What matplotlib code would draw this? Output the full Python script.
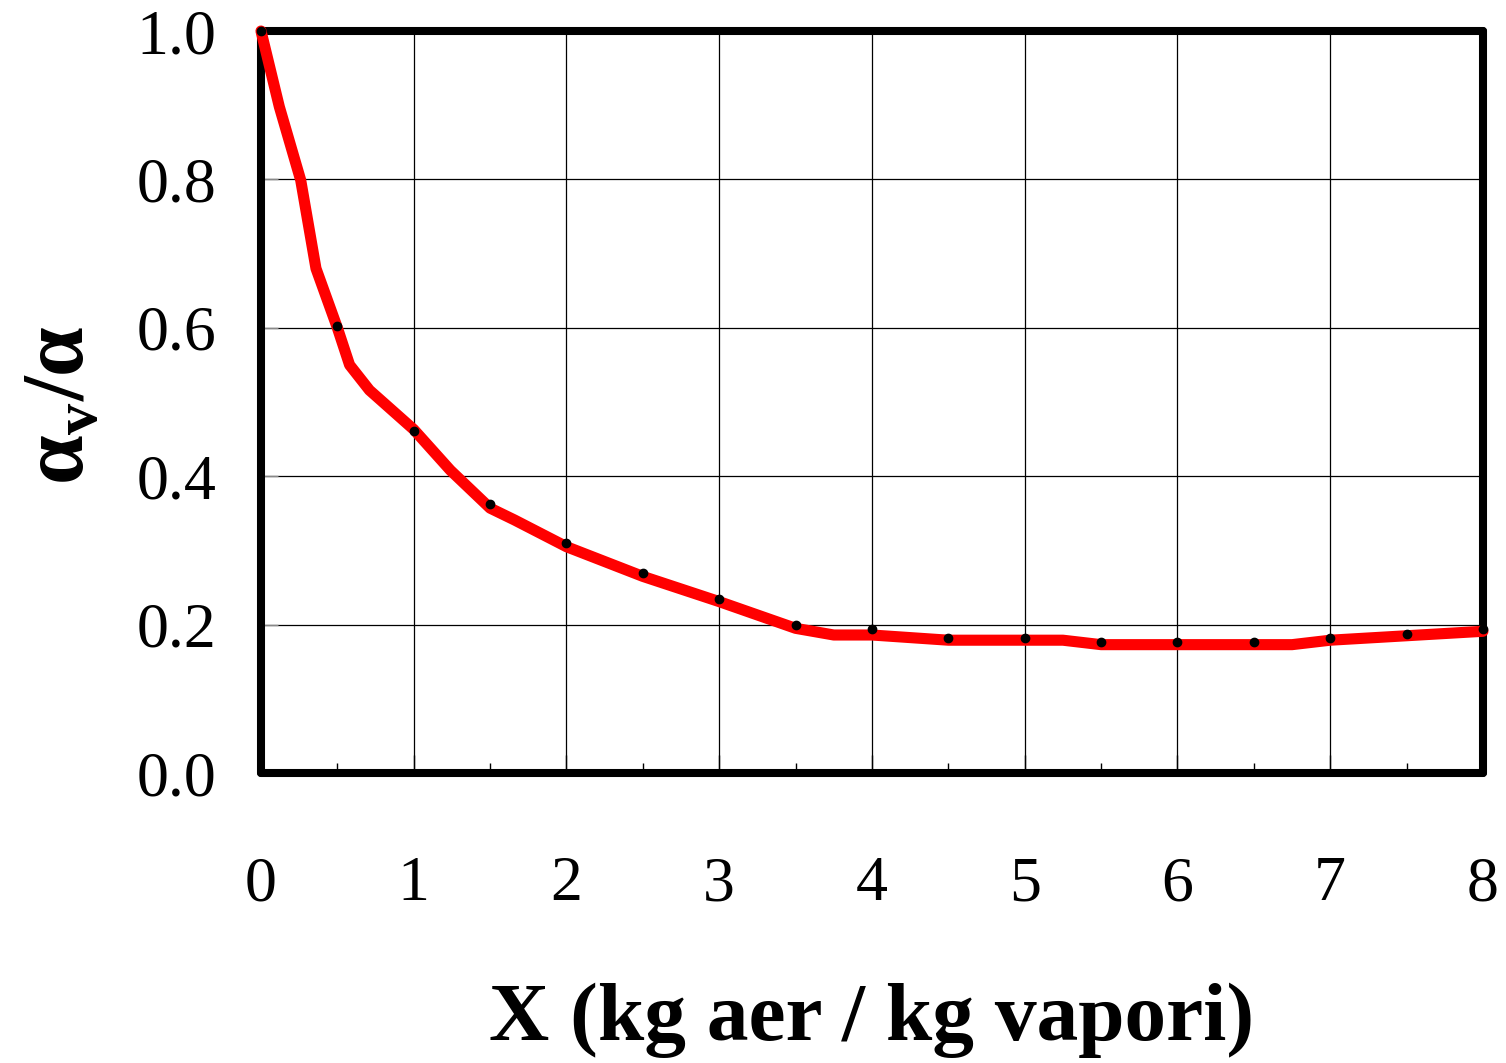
import matplotlib
matplotlib.use("Agg")
import matplotlib.pyplot as plt
from matplotlib.ticker import MultipleLocator

plt.rcParams['font.family'] = ['Liberation Serif', 'DejaVu Serif']
plt.rcParams['mathtext.fontset'] = 'custom'
plt.rcParams['mathtext.rm'] = 'Liberation Serif'
plt.rcParams['mathtext.bf'] = 'Liberation Serif:bold'

# measured points (black dots)
x_pts = [0, 0.5, 1, 1.5, 2, 2.5, 3, 3.5, 4, 4.5, 5, 5.5, 6, 6.5, 7, 7.5, 8]
y_pts = [1.0, 0.602, 0.461, 0.362, 0.310, 0.269, 0.235, 0.200, 0.194, 0.182,
         0.182, 0.177, 0.177, 0.177, 0.182, 0.188, 0.194]

# fitted curve (red line)
x_fit = [0, 0.12, 0.26, 0.36, 0.5, 0.58, 0.71, 1.0, 1.24, 1.5, 1.66, 2.0,
         2.5, 3.0, 3.5, 3.75, 4.0, 4.5, 5.25, 5.5, 6.75, 7.0, 8.0]
y_fit = [1.0, 0.898, 0.799, 0.680, 0.600, 0.550, 0.516, 0.463, 0.408, 0.357,
         0.341, 0.305, 0.265, 0.231, 0.195, 0.186, 0.186, 0.179, 0.179, 0.173,
         0.173, 0.179, 0.191]

fig = plt.figure(figsize=(15.06, 10.63), dpi=100)
ax = fig.add_axes([0.1733, 0.2728, 0.8114, 0.698])

ax.plot(x_fit, y_fit, color='red', lw=8, solid_capstyle='round',
        solid_joinstyle='round', clip_on=False, zorder=5)
ax.plot(x_pts, y_pts, 'o', color='black', ms=6, clip_on=False, zorder=6)

ax.set_xlim(0, 8)
ax.set_ylim(0, 1.0)
ax.xaxis.set_major_locator(MultipleLocator(1))
ax.xaxis.set_minor_locator(MultipleLocator(0.5))
ax.yaxis.set_major_locator(MultipleLocator(0.2))
ax.yaxis.set_major_formatter(plt.FormatStrFormatter('%.1f'))

ax.grid(True, which='major', color='black', lw=0.9)
ax.tick_params(axis='x', which='major', direction='in', length=13, width=1,
               labelsize=46, pad=60)
ax.tick_params(axis='x', which='minor', direction='in', length=7, width=1)
ax.tick_params(axis='y', which='major', direction='in', length=12, width=1,
               labelsize=46, pad=32, color='#888888')

for s in ax.spines.values():
    s.set_linewidth(5.8)
    s.set_capstyle('round')

ax.set_xlabel('X (kg aer / kg vapori)', fontsize=60, fontweight='bold')
ax.xaxis.set_label_coords(0.5, -0.282)
ax.set_ylabel(r'α$_{\mathregular{v}}$/α', fontsize=64, fontweight='bold')
ax.yaxis.set_label_coords(-0.13, 0.496)

fig.savefig('out.png', dpi=100)
